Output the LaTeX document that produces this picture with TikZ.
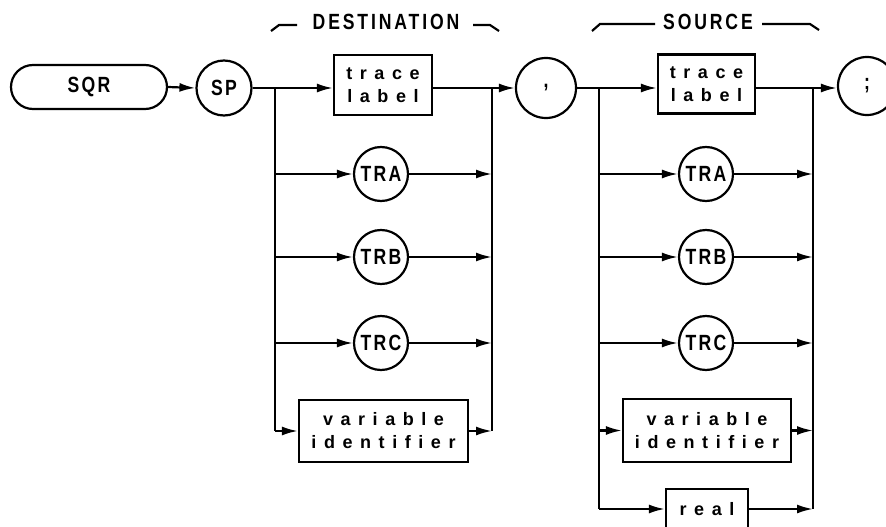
\documentclass[tikz,border=0pt]{standalone}
\usepackage{fontspec}
\setmainfont{Liberation Sans}
\newfontfamily\capsfont{Liberation Sans}[FakeStretch=0.8,LetterSpace=10]
\newfontfamily\hdrfont{Liberation Sans}[FakeStretch=0.8,LetterSpace=13]
\newfontfamily\lowfont{Liberation Sans}[LetterSpace=42]
\usetikzlibrary{arrows.meta}
\tikzset{
  line/.style={line width=2.8pt},
  arr/.style={line width=2.2pt,-{Latex[length=16pt,width=9pt]}},
  circ/.style={circle,draw,line width=2.2pt,minimum size=54pt,inner sep=0pt,
    font=\capsfont\bfseries\fontsize{22}{24}\selectfont},
  box/.style={rectangle,draw,line width=2.2pt,inner sep=0pt,align=center,
    font=\lowfont\bfseries\fontsize{18}{23}\selectfont},
  hdr/.style={inner sep=0pt,font=\hdrfont\bfseries\fontsize{22}{24}\selectfont},
  hook/.style={line width=2.2pt}
}
\begin{document}
\begin{tikzpicture}[x=1pt,y=-1pt]
\useasboundingbox (0,0) rectangle (886,527);
% headers
\node[hdr] (desthdr) at (386,22) {DESTINATION};
\draw[hook] (271,31) -- (279,25) -- (297,25);
\draw[hook] (473,25) -- (490,25) -- (499,31);
\node[hdr] (srchdr) at (708,22) {SOURCE};
\draw[hook] (592,31) -- (600,24) -- (655,24);
\draw[hook] (762,24) -- (810,24) -- (819,30);
% main row
\node[draw,line width=2.2pt,rounded corners=22pt,minimum width=156pt,minimum height=44pt,
  font=\capsfont\bfseries\fontsize{22}{24}\selectfont] (sqr) at (89,87) {SQR};
\node[circ,minimum size=55pt] (sp) at (224,88) {SP};
\node[circ,minimum size=60pt] (comma) at (546,88) {,};
\node[circ,minimum size=58pt] (semi) at (867,86) {;};
% destination
\node[box,minimum width=98pt,minimum height=60pt] (dtl) at (383,85) {trace\\label};
\node[circ] (dtra) at (381,174) {TRA};
\node[circ] (dtrb) at (381,257) {TRB};
\node[circ] (dtrc) at (381,343) {TRC};
\node[box,minimum width=169pt,minimum height=62pt] (dvar) at (383.5,431) {variable\\identifier};
\coordinate (dL) at (275,88);
\coordinate (dR) at (492,88);
% source
\node[box,minimum width=97pt,minimum height=59pt] (stl) at (706.5,84) {trace\\label};
\node[circ] (stra) at (706,174) {TRA};
\node[circ] (strb) at (706,257) {TRB};
\node[circ] (strc) at (706,343) {TRC};
\node[box,minimum width=168pt,minimum height=63pt] (svar) at (707,430.5) {variable\\identifier};
\node[box,minimum width=82pt,minimum height=40pt] (sreal) at (707,509) {real};
\coordinate (sL) at (599,88);
\coordinate (sR) at (813,88);
% connectors main
\draw[arr] (sqr.east) -- (sp.west);
\draw[arr] (sp.east) -- (dtl.west |- sp.east);
\draw[arr] (dtl.east |- sp.east) -- (comma.west);
\draw[arr] (comma.east) -- (stl.west |- comma.east);
\draw[arr] (stl.east |- comma.east) -- (semi.west |- comma.east);
% destination buses
\draw[line] (dL) -- (dL |- dvar.west);
\draw[arr] (dL |- dvar.west) -- (dvar.west);
\draw[arr] (dL |- dtra) -- (dtra.west);
\draw[arr] (dL |- dtrb) -- (dtrb.west);
\draw[arr] (dL |- dtrc) -- (dtrc.west);
\draw[arr] (dtra.east) -- (dR |- dtra);
\draw[arr] (dtrb.east) -- (dR |- dtrb);
\draw[arr] (dtrc.east) -- (dR |- dtrc);
\draw[arr] (dvar.east) -- (dR |- dvar.east);
\draw[line] (dR |- dvar.east) -- (dR);
% source buses
\draw[line] (sL) -- (sL |- sreal.west);
\draw[arr] (sL |- sreal.west) -- (sreal.west);
\draw[arr] (sL |- stra) -- (stra.west);
\draw[arr] (sL |- strb) -- (strb.west);
\draw[arr] (sL |- strc) -- (strc.west);
\draw[arr] (sL |- svar) -- (svar.west);
\draw[arr] (stra.east) -- (sR |- stra);
\draw[arr] (strb.east) -- (sR |- strb);
\draw[arr] (strc.east) -- (sR |- strc);
\draw[arr] (svar.east) -- (sR |- svar);
\draw[arr] (sreal.east) -- (sR |- sreal.east);
\draw[line] (sR |- sreal.east) -- (sR);
\end{tikzpicture}
\end{document}
